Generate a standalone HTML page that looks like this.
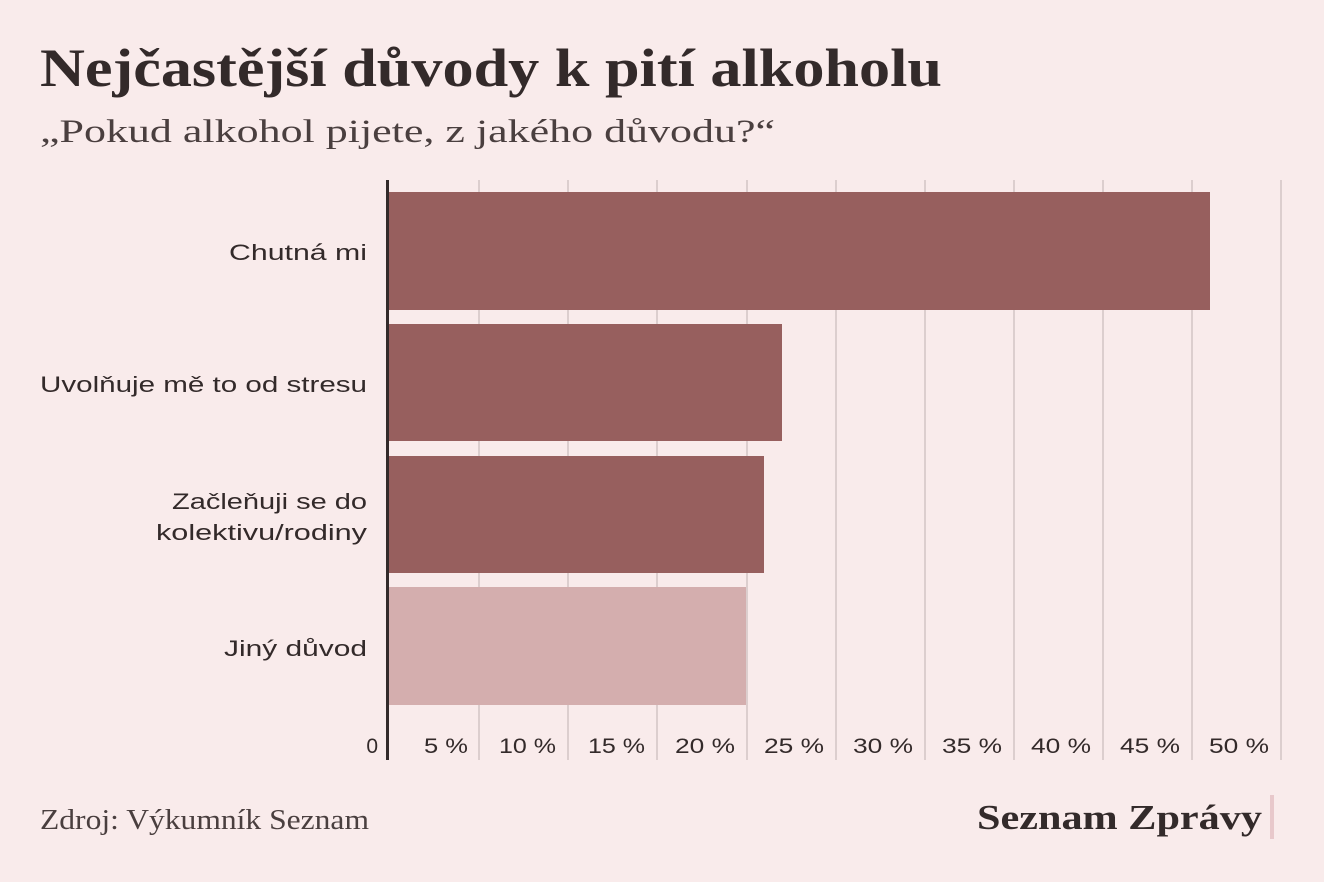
<!DOCTYPE html>
<html><head><meta charset="utf-8"><style>
html,body{margin:0;padding:0;background:#f9ebeb;}
svg{display:block}
</style></head><body>
<svg width="1324" height="882" xmlns="http://www.w3.org/2000/svg">
<rect width="1324" height="882" fill="#f9ebeb"/>
<text x="40" y="86" textLength="902" lengthAdjust="spacingAndGlyphs" font-family="Liberation Serif, serif" font-weight="bold" font-size="54" fill="#332a2a">Nejčastější důvody k pití alkoholu</text>
<text x="40" y="142" textLength="735" lengthAdjust="spacingAndGlyphs" font-family="Liberation Serif, serif" font-size="33" fill="#4a3f3f">„Pokud alkohol pijete, z jakého důvodu?“</text>
<g stroke="#d2c4c4" stroke-width="1.5">
<line x1="479" y1="180" x2="479" y2="760"/><line x1="568" y1="180" x2="568" y2="760"/>
<line x1="657" y1="180" x2="657" y2="760"/><line x1="747" y1="180" x2="747" y2="760"/>
<line x1="836" y1="180" x2="836" y2="760"/><line x1="925" y1="180" x2="925" y2="760"/>
<line x1="1014" y1="180" x2="1014" y2="760"/><line x1="1103" y1="180" x2="1103" y2="760"/>
<line x1="1192" y1="180" x2="1192" y2="760"/><line x1="1281" y1="180" x2="1281" y2="760"/>
</g>
<rect x="389" y="192" width="821" height="118" fill="#975f5e"/>
<rect x="389" y="324" width="393" height="117" fill="#975f5e"/>
<rect x="389" y="456" width="375" height="117" fill="#975f5e"/>
<rect x="389" y="587" width="357" height="118" fill="#d4aeae"/>
<line x1="387.5" y1="180" x2="387.5" y2="760" stroke="#332a2a" stroke-width="3"/>
<g font-family="Liberation Sans, sans-serif" font-size="22" fill="#332a2a" text-anchor="end" lengthAdjust="spacingAndGlyphs">
<text x="367" y="260" textLength="138" lengthAdjust="spacingAndGlyphs">Chutná mi</text>
<text x="367" y="392" textLength="327" lengthAdjust="spacingAndGlyphs">Uvolňuje mě to od stresu</text>
<text x="367" y="509" textLength="195" lengthAdjust="spacingAndGlyphs">Začleňuji se do</text>
<text x="367" y="540" textLength="211" lengthAdjust="spacingAndGlyphs">kolektivu/rodiny</text>
<text x="367" y="656" textLength="143" lengthAdjust="spacingAndGlyphs">Jiný důvod</text>
</g>
<g font-family="Liberation Sans, sans-serif" font-size="21" fill="#332a2a" text-anchor="end">
<text x="378" y="753">0</text>
<text x="468" y="753" textLength="44" lengthAdjust="spacingAndGlyphs">5 %</text><text x="556" y="753" textLength="57" lengthAdjust="spacingAndGlyphs">10 %</text>
<text x="645" y="753" textLength="57" lengthAdjust="spacingAndGlyphs">15 %</text><text x="735" y="753" textLength="60" lengthAdjust="spacingAndGlyphs">20 %</text>
<text x="824" y="753" textLength="60" lengthAdjust="spacingAndGlyphs">25 %</text><text x="913" y="753" textLength="60" lengthAdjust="spacingAndGlyphs">30 %</text>
<text x="1002" y="753" textLength="60" lengthAdjust="spacingAndGlyphs">35 %</text><text x="1091" y="753" textLength="60" lengthAdjust="spacingAndGlyphs">40 %</text>
<text x="1180" y="753" textLength="60" lengthAdjust="spacingAndGlyphs">45 %</text><text x="1269" y="753" textLength="60" lengthAdjust="spacingAndGlyphs">50 %</text>
</g>
<text x="40" y="829" textLength="329" lengthAdjust="spacingAndGlyphs" font-family="Liberation Serif, serif" font-size="28" fill="#4a3f3f">Zdroj: Výkumník Seznam</text>
<text x="1262" y="829" text-anchor="end" textLength="285" lengthAdjust="spacingAndGlyphs" font-family="Liberation Serif, serif" font-weight="bold" font-size="35" fill="#332a2a">Seznam Zprávy</text>
<rect x="1270" y="795" width="4" height="44" fill="#e8c8cb"/>
</svg>
</body></html>
